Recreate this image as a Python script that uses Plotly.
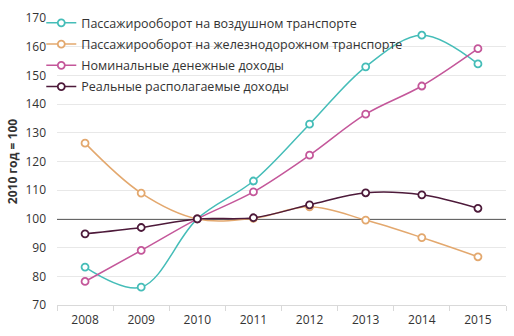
import plotly.graph_objects as go

years = ["2008", "2009", "2010", "2011", "2012", "2013", "2014", "2015"]
air = [83.2, 76.2, 100, 113.2, 133, 153, 164, 154]
rail = [126.4, 109, 100, 100.2, 104.2, 99.6, 93.5, 86.8]
nominal = [78.2, 89, 100, 109.4, 122.2, 136.5, 146.3, 159.3]
real = [94.8, 97, 100, 100.4, 104.9, 109.1, 108.4, 103.7]

names = [
    "Пассажирооборот на воздушном транспорте",
    "Пассажирооборот на железнодорожном транспорте",
    "Номинальные денежные доходы",
    "Реальные располагаемые доходы",
]
colors = ["#45bdb8", "#e3a86e", "#c4579a", "#4d1a3a"]
series = [air, rail, nominal, real]

fig = go.Figure()
for i, (name, vals, col) in enumerate(zip(names, series, colors)):
    fig.add_trace(go.Scatter(
        x=years, y=vals, name=name, mode="lines+markers", legendgroup=f"g{i}",
        line=dict(color=col, width=1.5, shape="spline", smoothing=1.0),
        marker=dict(symbol="circle", size=7, color="white",
                    line=dict(color=col, width=1.8)),
    ))

fig.add_shape(type="line", xref="paper", x0=0, x1=1, yref="y", y0=100, y1=100,
              line=dict(color="#333333", width=1.5), layer="between")

font = "Open Sans, Noto Sans, sans-serif"
fig.update_layout(
    width=514, height=336,
    margin=dict(l=57, r=8, t=10, b=28),
    plot_bgcolor="white", paper_bgcolor="white",
    font=dict(family=font, size=12, color="#333333"),
    showlegend=True,
    legend=dict(x=-0.035, y=1.034, xanchor="left", yanchor="top",
                bgcolor="rgba(0,0,0,0)", font=dict(size=12.5, color="#333333"),
                tracegroupgap=2, itemwidth=30),
    xaxis=dict(type="category", range=[-0.5, 7.5], showgrid=False,
               showline=True, linecolor="#d9d9d9", linewidth=1,
               ticks="outside", tickcolor="#d9d9d9", ticklen=5,
               ticklabelstandoff=4,
               tickson="boundaries", tickfont=dict(size=12, color="#333333")),
    yaxis=dict(range=[70, 170], dtick=10, showgrid=True, gridcolor="#e8e8e8",
               zeroline=False, showline=False, ticklabelstandoff=10,
               tickfont=dict(size=12, color="#333333"),
               title=dict(text="<b>2010 год = 100</b>", standoff=5,
                          font=dict(size=12, color="#333333"))),
)

fig.write_html("out.html")
